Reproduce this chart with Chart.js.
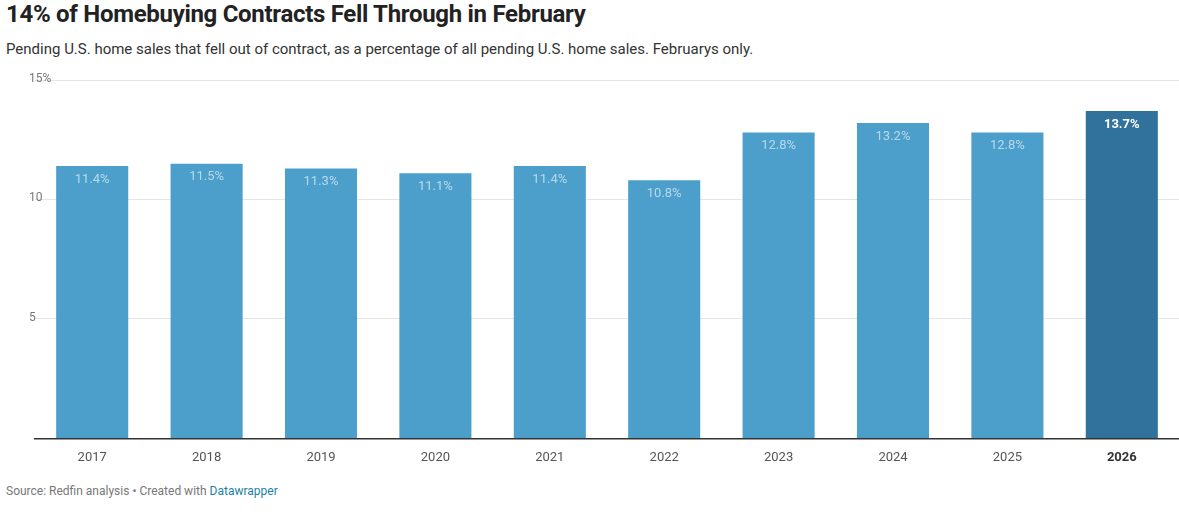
<!DOCTYPE html>
<html>
<head>
<meta charset="utf-8">
<script src="https://cdn.jsdelivr.net/npm/chart.js@4"></script>
<style>
  body { margin: 0; background: #fff; font-family: Roboto, "Noto Sans", sans-serif; }
  #wrap { position: relative; width: 1179px; height: 512px; }
  h1 { position: absolute; left: 6px; top: 0; margin: 0; font-size: 24px; font-weight: 700; color: #222; letter-spacing: -0.3px; }
  .sub { position: absolute; left: 6px; top: 40px; font-size: 15px; color: #333; }
  .src { position: absolute; left: 6px; top: 484px; font-size: 12px; color: #777; }
  .src span { color: #1d81a2; }
  #box { position: absolute; left: 0; top: 66px; width: 1179px; height: 404px; }
</style>
</head>
<body>
<div id="wrap">
  <h1>14% of Homebuying Contracts Fell Through in February</h1>
  <div class="sub">Pending U.S. home sales that fell out of contract, as a percentage of all pending U.S. home sales. Februarys only.</div>
  <div id="box"><canvas id="chart"></canvas></div>
  <div class="src">Source: Redfin analysis • Created with <span>Datawrapper</span></div>
</div>
<script>
var years = ['2017', '2018', '2019', '2020', '2021', '2022', '2023', '2024', '2025', '2026'];
var shares = [11.4, 11.5, 11.3, 11.1, 11.4, 10.8, 12.8, 13.2, 12.8, 13.7];
var yTicks = [0, 5, 10, 15];

var colors = shares.map(function (v, i) {
  return i === shares.length - 1 ? '#31729c' : '#4b9fca';
});

var barLabels = {
  id: 'barLabels',
  afterDatasetsDraw: function (chart) {
    var ctx = chart.ctx;
    var meta = chart.getDatasetMeta(0);
    ctx.save();
    ctx.textAlign = 'center';
    ctx.textBaseline = 'top';
    meta.data.forEach(function (bar, i) {
      var last = i === shares.length - 1;
      ctx.font = (last ? '700 ' : '400 ') + '13px Roboto';
      ctx.fillStyle = last ? '#ffffff' : 'rgba(255,255,255,0.6)';
      ctx.fillText(shares[i].toFixed(1) + '%', bar.x, bar.y + 7);
    });
    ctx.restore();
  }
};

new Chart(document.getElementById('chart'), {
  type: 'bar',
  data: {
    labels: years,
    datasets: [{ data: shares, backgroundColor: colors, categoryPercentage: 1, barPercentage: 0.63 }]
  },
  options: {
    responsive: true,
    maintainAspectRatio: false,
    animation: false,
    layout: { padding: { left: 0, right: 0, top: 14 } },
    plugins: { legend: { display: false }, tooltip: { enabled: false } },
    scales: {
      x: {
        grid: { display: false },
        border: { color: '#333', width: 1.5 },
        ticks: {
          color: function (c) { return c.index === years.length - 1 ? '#333' : '#555'; },
          font: function (c) { return { family: 'Roboto', size: 13, weight: c.index === years.length - 1 ? '700' : '400' }; },
          padding: 4
        }
      },
      y: {
        min: 0, max: 15,
        afterBuildTicks: function (axis) { axis.ticks = yTicks.map(function (v) { return { value: v }; }); },
        grid: { color: '#e6e6e6', drawTicks: false },
        border: { display: false },
        afterFit: function (axis) { axis.width = 35; },
        ticks: {
          color: '#777',
          font: { family: 'Roboto', size: 12 },
          mirror: true,
          labelOffset: -1,
          padding: -6,
          callback: function (v) { return v === 0 ? '' : (v === 15 ? v + '%' : v); }
        }
      }
    }
  },
  plugins: [barLabels]
});
</script>
</body>
</html>
